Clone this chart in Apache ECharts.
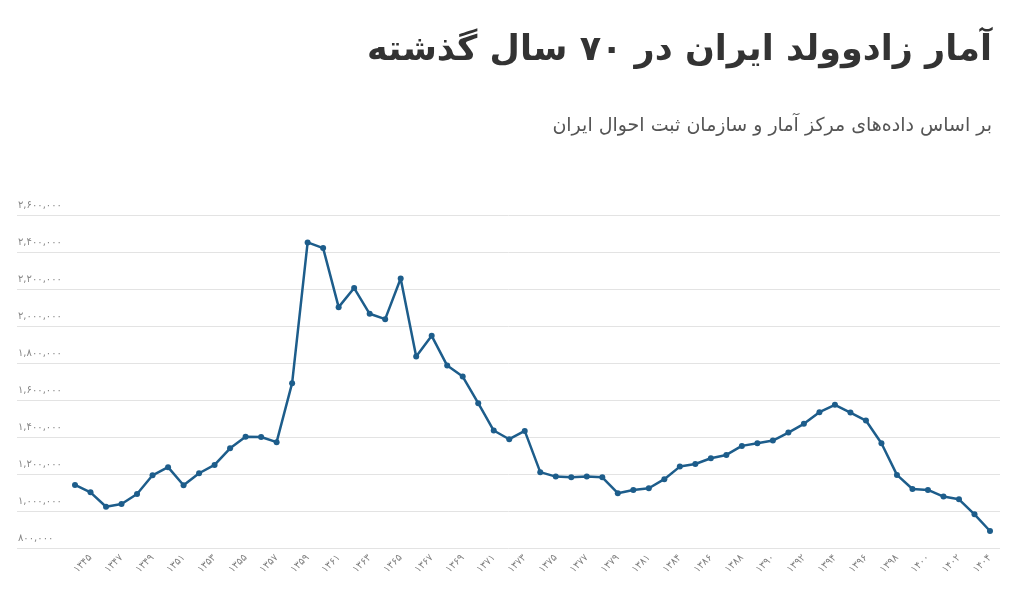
<!DOCTYPE html>
<html>
<head>
<meta charset="utf-8">
<title>آمار زادوولد ایران</title>
<script src="https://cdn.jsdelivr.net/npm/echarts@6/dist/echarts.min.js"></script>
<style>
  html, body { margin: 0; padding: 0; background: #fff; }
  #chart { width: 1024px; height: 607px; }
</style>
</head>
<body>
<div id="chart"></div>
<script>
// سال‌ها (سال ۱۳۸۳ در داده نیامده)
const years = [
  1344, 1345, 1346, 1347, 1348, 1349, 1350, 1351, 1352, 1353,
  1354, 1355, 1356, 1357, 1358, 1359, 1360, 1361, 1362, 1363,
  1364, 1365, 1366, 1367, 1368, 1369, 1370, 1371, 1372, 1373,
  1374, 1375, 1376, 1377, 1378, 1379, 1380, 1381, 1382, 1384,
  1385, 1386, 1387, 1388, 1389, 1390, 1391, 1392, 1393, 1394,
  1395, 1396, 1397, 1398, 1399, 1400, 1401, 1402, 1403, 1404
]

// تعداد ولادت
const births = [
  1141000, 1101000, 1023000, 1038000, 1092000, 1193000, 1237000, 1139000, 1204000, 1249000,
  1339000, 1402000, 1400000, 1372000, 1691000, 2452000, 2421000, 2102000, 2205000, 2066000,
  2037000, 2257000, 1835000, 1947000, 1786000, 1727000, 1583000, 1435000, 1388000, 1433000,
  1210000, 1186000, 1182000, 1186000, 1182000, 1096000, 1114000, 1123000, 1172000, 1240000,
  1254000, 1285000, 1303000, 1352000, 1366000, 1381000, 1424000, 1471000, 1534000, 1574000,
  1532000, 1489000, 1366000, 1195000, 1119000, 1114000, 1078000, 1063000, 982000, 892000
]

// محور عمودی
const yMin = 800000
const yMax = 2600000
const yStep = 200000

const titleText = 'آمار زادوولد ایران در ۷۰ سال گذشته'
const subtitleText = 'بر اساس داده‌های مرکز آمار و سازمان ثبت احوال ایران'

const faDigits = '۰۱۲۳۴۵۶۷۸۹'
const toFa = (s) => String(s).replace(/[0-9]/g, d => faDigits[+d])
const fmtNum = (v) => toFa(v.toLocaleString('en-US'))

const font = '"DejaVu Sans", sans-serif'
const lineColor = '#1d5d8b'

const chart = echarts.init(document.getElementById('chart'))

const option = {
  backgroundColor: '#fff',
  animation: false,
  title: [
    {
      text: titleText,
      right: 27,
      top: 28,
      textStyle: { fontFamily: font, fontSize: 35, fontWeight: 'bold', color: '#333' }
    },
    {
      text: subtitleText,
      right: 27,
      top: 112,
      textStyle: { fontFamily: font, fontSize: 19, fontWeight: 'normal', color: '#555' }
    }
  ],
  grid: [
    // ناحیه‌ی خط
    { left: 75, right: 34, top: 215, bottom: 59 },
    // خطوط راهنما و برچسب‌های محور عمودی در تمام عرض
    { left: 17, right: 24, top: 215, bottom: 59 }
  ],
  xAxis: [
    {
      type: 'category',
      gridIndex: 0,
      data: years,
      boundaryGap: false,
      axisLine: { show: false },
      axisTick: { show: false },
      axisLabel: {
        interval: (i) => i % 2 === 1,
        rotate: 45,
        margin: 8,
        fontFamily: font,
        fontSize: 10,
        color: '#808080',
        formatter: (v) => toFa(v)
      }
    },
    { type: 'value', gridIndex: 1, show: false }
  ],
  yAxis: [
    {
      type: 'value',
      gridIndex: 0,
      min: yMin,
      max: yMax,
      interval: yStep,
      axisLabel: { show: false },
      axisLine: { show: false },
      axisTick: { show: false },
      splitLine: { show: false }
    },
    {
      type: 'value',
      gridIndex: 1,
      min: yMin,
      max: yMax,
      interval: yStep,
      axisLine: { show: false },
      axisTick: { show: false },
      splitLine: { lineStyle: { color: '#e3e3e3', width: 1 } },
      axisLabel: {
        inside: true,
        margin: 1,
        verticalAlign: 'bottom',
        padding: [0, 0, 5, 0],
        fontFamily: font,
        fontSize: 10,
        color: '#888',
        formatter: (v) => fmtNum(v)
      }
    }
  ],
  series: [
    {
      type: 'line',
      xAxisIndex: 0,
      yAxisIndex: 0,
      data: births,
      symbol: 'circle',
      symbolSize: 6,
      showAllSymbol: true,
      lineStyle: { color: lineColor, width: 2.5 },
      itemStyle: { color: lineColor }
    }
  ]
}

chart.setOption(option)

window.addEventListener('resize', () => chart.resize())
</script>
</body>
</html>
